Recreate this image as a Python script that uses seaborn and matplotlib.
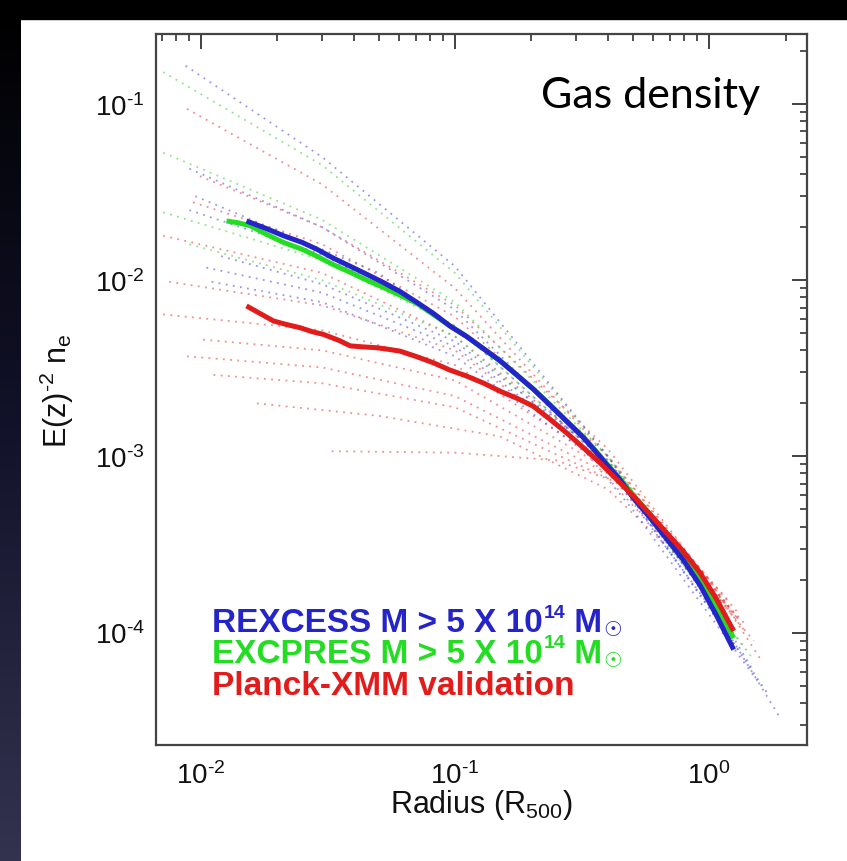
import numpy as np
import pandas as pd
import matplotlib
matplotlib.use("Agg")
import matplotlib.pyplot as plt
from matplotlib.ticker import LogLocator, NullFormatter
from matplotlib.colors import LinearSegmentedColormap
from matplotlib.patches import Rectangle
import seaborn as sns

# ---------------- data ----------------
# mean profiles
rexcess_r = [0.0151, 0.018, 0.0211, 0.025, 0.0286, 0.033, 0.0387, 0.045, 0.0523, 0.061,
             0.0707, 0.082, 0.0955, 0.111, 0.129, 0.150, 0.175, 0.204, 0.237, 0.275,
             0.320, 0.355, 0.395, 0.445, 0.504, 0.585, 0.681, 0.79, 0.923, 1.07, 1.25]
rexcess_ne = [0.0217, 0.0197, 0.0179, 0.0164, 0.0150, 0.0134, 0.0120, 0.0108, 0.0097, 0.0086,
              0.0075, 0.0065, 0.0055, 0.0048, 0.0041, 0.0035, 0.0029, 0.0024, 0.00195, 0.00158,
              0.00128, 0.00108, 0.00090, 0.00074, 0.00058, 0.00045, 0.00034, 0.00026, 0.000185,
              0.000125, 8.0e-5]

excpres_r = [0.0126, 0.014, 0.0156, 0.018, 0.0211, 0.025, 0.0286, 0.033, 0.0387, 0.045,
             0.0523, 0.061, 0.0707, 0.082, 0.0955, 0.111, 0.129, 0.150, 0.175, 0.204,
             0.237, 0.275, 0.320, 0.355, 0.395, 0.445, 0.504, 0.585, 0.681, 0.79, 0.923,
             1.07, 1.25]
excpres_ne = [0.0217, 0.0212, 0.0204, 0.0183, 0.0164, 0.0150, 0.0137, 0.0123, 0.0111, 0.0100,
              0.0091, 0.0082, 0.0074, 0.0064, 0.0055, 0.0048, 0.0041, 0.0035, 0.0029, 0.0024,
              0.00196, 0.00159, 0.00129, 0.00109, 0.00091, 0.00075, 0.00060, 0.00047, 0.00036,
              0.00027, 0.00020, 0.000140, 9.3e-5]

planck_r = [0.0151, 0.017, 0.0193, 0.0218, 0.0245, 0.0275, 0.0303, 0.033, 0.0350, 0.0387,
            0.044, 0.0492, 0.055, 0.0607, 0.070, 0.0822, 0.095, 0.111, 0.130, 0.150, 0.175,
            0.203, 0.237, 0.275, 0.320, 0.372, 0.433, 0.504, 0.585, 0.681, 0.79, 0.923,
            1.07, 1.25]
planck_ne = [0.00715, 0.0065, 0.00587, 0.0056, 0.00538, 0.0051, 0.00493, 0.0047, 0.00455,
             0.00424, 0.00418, 0.00414, 0.00405, 0.00396, 0.0037, 0.0034, 0.0031, 0.00286,
             0.0026, 0.00235, 0.00214, 0.00193, 0.00162, 0.00136, 0.00112, 0.00092, 0.00074,
             0.000595, 0.00047, 0.000368, 0.00029, 0.000218, 0.000155, 1.02e-4]

# individual cluster profiles (dotted)
rexcess_ind_r = [
    [0.0087, 0.03, 0.1, 0.4, 1.0, 1.9],
    [0.009, 0.03, 0.1, 0.4, 1.0, 1.7],
    [0.012, 0.03, 0.1, 0.4, 1.0, 1.5],
    [0.011, 0.03, 0.1, 0.4, 1.2],
    [0.009, 0.03, 0.1, 0.4, 1.3],
    [0.0095, 0.05, 0.2, 0.5, 1.6],
    [0.0105, 0.03, 0.1, 0.4, 1.1],
]
rexcess_ind_ne = [
    [0.165, 0.05, 0.012, 0.0010, 1.5e-4, 3.3e-5],
    [0.043, 0.02, 0.0068, 0.0009, 1.4e-4, 4.5e-5],
    [0.0137, 0.0095, 0.0045, 0.00095, 1.6e-4, 6e-5],
    [0.0098, 0.0075, 0.0037, 0.00085, 1.0e-4],
    [0.025, 0.014, 0.0055, 0.0009, 8e-5],
    [0.030, 0.011, 0.0025, 0.0005, 5e-5],
    [0.0118, 0.0085, 0.0042, 0.0009, 1.3e-4],
]
excpres_ind_r = [
    [0.0071, 0.03, 0.1, 0.4, 1.0, 1.5],
    [0.0071, 0.03, 0.1, 0.4, 1.3],
    [0.0071, 0.03, 0.1, 0.4, 1.4],
    [0.009, 0.03, 0.1, 0.4, 1.2],
]
excpres_ind_ne = [
    [0.152, 0.045, 0.011, 0.0010, 1.5e-4, 7e-5],
    [0.053, 0.022, 0.0075, 0.0010, 1.0e-4],
    [0.0243, 0.013, 0.0055, 0.0009, 8e-5],
    [0.016, 0.010, 0.0048, 0.00088, 1.1e-4],
]
planck_ind_r = [
    [0.0088, 0.03, 0.1, 0.4, 1.0, 1.6],
    [0.0099, 0.03, 0.1, 0.4, 1.2],
    [0.0093, 0.03, 0.1, 0.4, 1.3],
    [0.0071, 0.03, 0.1, 0.4, 1.4],
    [0.0075, 0.03, 0.1, 0.4, 1.3],
    [0.0071, 0.03, 0.1, 0.4, 1.2],
    [0.0102, 0.03, 0.1, 0.4, 1.5],
    [0.0088, 0.03, 0.1, 0.4, 1.4],
    [0.0112, 0.03, 0.1, 0.4, 1.3],
    [0.0166, 0.05, 0.15, 0.4, 1.2],
    [0.0327, 0.1, 0.25, 0.45, 1.3],
]
planck_ind_ne = [
    [0.094, 0.035, 0.009, 0.0010, 2.0e-4, 7e-5],
    [0.039, 0.020, 0.0072, 0.0011, 1.4e-4],
    [0.0277, 0.016, 0.0062, 0.0010, 1.2e-4],
    [0.0179, 0.011, 0.0048, 0.00095, 1.0e-4],
    [0.0098, 0.0072, 0.0040, 0.0009, 1.3e-4],
    [0.0064, 0.0052, 0.0033, 0.0009, 1.5e-4],
    [0.0046, 0.0040, 0.0027, 0.00085, 9e-5],
    [0.0037, 0.0032, 0.0022, 0.0008, 1.1e-4],
    [0.0029, 0.0026, 0.0019, 0.00075, 1.2e-4],
    [0.0020, 0.0017, 0.0013, 0.00065, 1.4e-4],
    [0.00107, 0.00105, 0.00095, 0.0007, 1.2e-4],
]

x_ticks = [1e-2, 1e-1, 1e0]
x_tick_labels = [r"$\mathregular{10^{\text{-}2}}$", r"$\mathregular{10^{\text{-}1}}$",
                 r"$\mathregular{10^{0}}$"]
y_ticks = [1e-4, 1e-3, 1e-2, 1e-1]
y_tick_labels = [r"$\mathregular{10^{\text{-}4}}$", r"$\mathregular{10^{\text{-}3}}$",
                 r"$\mathregular{10^{\text{-}2}}$", r"$\mathregular{10^{\text{-}1}}$"]
legend_main = ["REXCESS M > 5 X 10", "EXCPRES M > 5 X 10", "Planck-XMM validation"]
legend_sup = ["14", "14", None]
legend_tail = [" M", " M", None]
legend_sub = ["\u2609", "\u2609", None]

# ---------------- style ----------------
sns.set_theme(style="white")
plt.rcParams["font.family"] = ["Liberation Sans", "DejaVu Sans"]
plt.rcParams["mathtext.fontset"] = "custom"
plt.rcParams["mathtext.rm"] = "Liberation Sans"
plt.rcParams["mathtext.it"] = "Liberation Sans:italic"
plt.rcParams["mathtext.bf"] = "Liberation Sans:bold"
plt.rcParams["mathtext.sf"] = "Liberation Sans"

BLUE = "#2424c8"
GREEN = "#22dd22"
RED = "#e21b1b"
DOT_BLUE = "#4040e0"
DOT_GREEN = "#30d030"
DOT_RED = "#e83030"

W, H = 847, 862
fig = plt.figure(figsize=(W / 100, H / 100), dpi=100, facecolor="white")

# slide frame decoration (dark top band and left gradient strip)
band_top, band_left = 20, 20
gax = fig.add_axes([0, 0, band_left / W, 1])
gax.axis("off")
cmap = LinearSegmentedColormap.from_list("slide", ["#000000", "#12122a", "#33334f"])
gax.imshow(np.linspace(0, 1, 256)[:, None], aspect="auto", cmap=cmap,
           extent=[0, 1, 0, 1], origin="upper")
fig.add_artist(Rectangle((0, 1 - band_top / H), 1, band_top / H,
                         transform=fig.transFigure, color="black", zorder=0))

ax = fig.add_axes([156 / W, 1 - 746 / H, 651 / W, 711 / H])
ax.set_facecolor("white")

dot_style = dict(linestyle=(0, (1, 3)), linewidth=1.3, alpha=0.55)
for rr, nn in zip(planck_ind_r, planck_ind_ne):
    sns.lineplot(x=rr, y=nn, ax=ax, color=DOT_RED, sort=False, estimator=None, **dot_style)
for rr, nn in zip(excpres_ind_r, excpres_ind_ne):
    sns.lineplot(x=rr, y=nn, ax=ax, color=DOT_GREEN, sort=False, estimator=None, **dot_style)
for rr, nn in zip(rexcess_ind_r, rexcess_ind_ne):
    sns.lineplot(x=rr, y=nn, ax=ax, color=DOT_BLUE, sort=False, estimator=None, **dot_style)

main_style = dict(linewidth=3.6, sort=False, estimator=None, solid_capstyle="butt",
                  solid_joinstyle="round")
sns.lineplot(x=excpres_r, y=excpres_ne, ax=ax, color=GREEN, **main_style)
sns.lineplot(x=rexcess_r, y=rexcess_ne, ax=ax, color=BLUE, **main_style)
sns.lineplot(x=planck_r, y=planck_ne, ax=ax, color=RED, **main_style)

ax.set_xscale("log")
ax.set_yscale("log")
ax.set_xlim(0.00665, 2.43)
ax.set_ylim(2.3e-5, 0.25)

ax.set_xticks(x_ticks)
ax.set_xticklabels(x_tick_labels, fontsize=20)
ax.set_yticks(y_ticks)
ax.set_yticklabels(y_tick_labels, fontsize=20)
ax.xaxis.set_minor_locator(LogLocator(base=10, subs=np.arange(2, 10)))
ax.yaxis.set_minor_locator(LogLocator(base=10, subs=np.arange(2, 10)))
ax.xaxis.set_minor_formatter(NullFormatter())
ax.yaxis.set_minor_formatter(NullFormatter())
ax.tick_params(which="both", direction="in", top=True, right=True,
               color="#333333", labelcolor="#111111")
ax.tick_params(which="major", length=11, width=1.3)
ax.tick_params(which="minor", length=5, width=1.2)
ax.tick_params(axis="x", which="major", pad=12)
ax.tick_params(axis="y", which="major", pad=8)

for s in ax.spines.values():
    s.set_color("#444444")
    s.set_linewidth(1.6)

ax.set_xlabel(r"Radius (R$\mathregular{_{500}}$)", fontsize=22, color="#111111")
ax.set_ylabel(r"E(z)$\mathregular{^{\text{-}2}}$ n$\mathregular{_e}$", fontsize=22,
              color="#111111")
ax.xaxis.set_label_coords(0.5, -0.083)
ax.xaxis.label.set_va("center")
ax.yaxis.set_label_coords(-0.152, 0.5)
ax.yaxis.label.set_va("center")

ax.text(0.928, 0.897, "Gas density", transform=ax.transAxes, ha="right",
        va="baseline", fontsize=31, family=["Lato", "DejaVu Sans"], color="black")

# coloured legend text (with small superscript and sun symbol)
for main, sup, tail, sub, col, yy in zip(legend_main, legend_sup, legend_tail, legend_sub,
                                         [BLUE, GREEN, RED], [0.160, 0.117, 0.072]):
    t1 = ax.text(0.086, yy, main, transform=ax.transAxes, ha="left", va="baseline",
                 fontsize=24, fontweight="bold", color=col)
    if sup is None:
        continue
    t2 = ax.annotate(sup, xy=(1, 1), xycoords=t1, xytext=(0.5, 2.5),
                     textcoords="offset points", ha="left", va="top",
                     fontsize=14, fontweight="bold", color=col)
    t3 = ax.annotate(tail, xy=(1, 0), xycoords=(t2, t1), ha="left", va="bottom",
                     fontsize=24, fontweight="bold", color=col)
    ax.annotate(sub, xy=(1, 0), xycoords=t3, xytext=(0.5, -0.5),
                textcoords="offset points", ha="left", va="bottom",
                fontsize=15, family=["DejaVu Sans"], color=col)

fig.savefig("out.png", dpi=100, facecolor="white")
